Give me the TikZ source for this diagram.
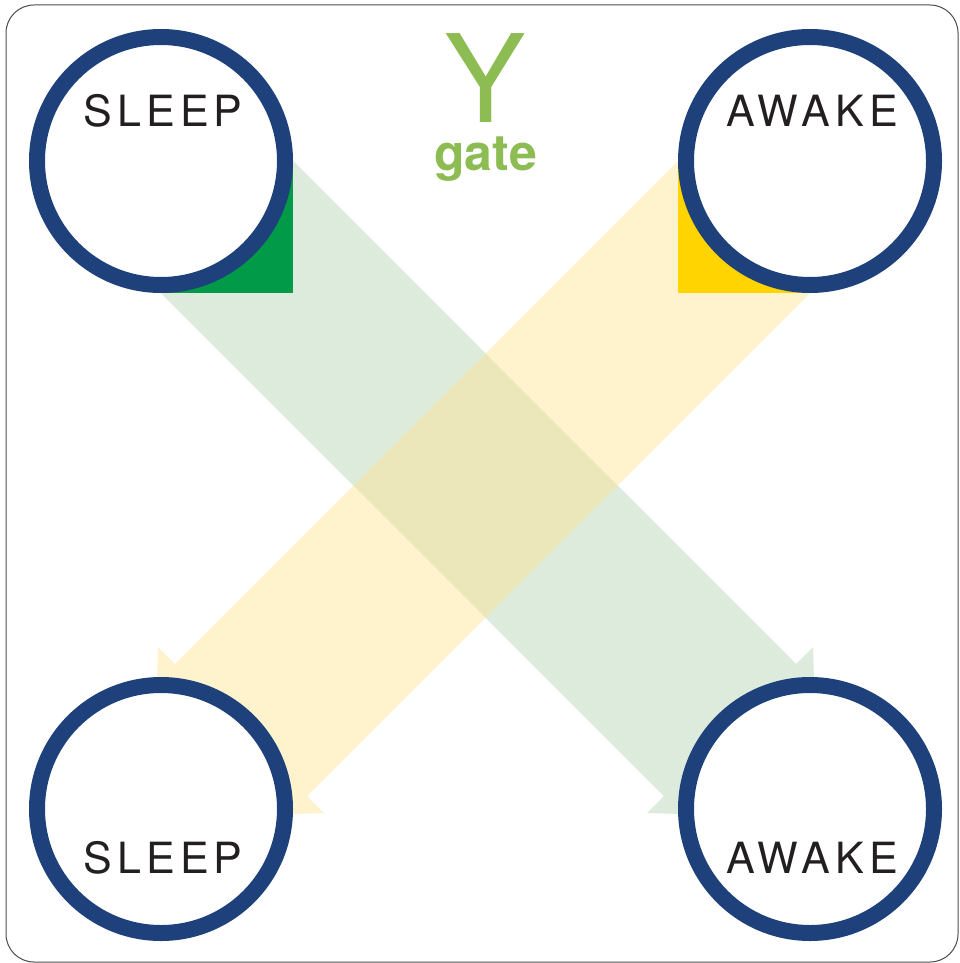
\documentclass[tikz,border=0pt]{standalone}
\usepackage{fontspec}
\setmainfont{TeX Gyre Heros}
\newfontfamily\labfont[LetterSpace=12]{TeX Gyre Heros}
\newfontfamily\herosfont{TeX Gyre Heros}
\definecolor{ringblue}{HTML}{1E417C}
\definecolor{darkgreen}{HTML}{009A49}
\definecolor{gold}{HTML}{FFD400}
\definecolor{lightgreen}{HTML}{DCEBDC}
\definecolor{lightyellow}{HTML}{FEF3CD}
\definecolor{crossing}{HTML}{EBE7BB}
\definecolor{txt}{HTML}{231F20}
\definecolor{gategreen}{HTML}{8CBC52}
\definecolor{frame}{HTML}{4D4D4D}
\begin{document}
\begin{tikzpicture}[x=1pt,y=-1pt,
  ring/.style={circle, draw=ringblue, fill=white, line width=16pt, minimum size=248pt, inner sep=0pt},
  statelabel/.style={anchor=base, text=txt, font=\fontsize{43}{43}\labfont, inner sep=0pt}]
\useasboundingbox (0,0) rectangle (959,963);
\fill[white] (0,0) rectangle (959,963);
\draw[frame, line width=1pt, rounded corners=28pt] (6,5) rectangle (958,962);
% light bands
\path[fill=lightgreen] (161,161) -- (293,161) -- (796,664) -- (813,647) -- (818,818) -- (647,813) -- (664,796) -- (161,293) -- cycle;
\path[fill=lightyellow] (810,161) -- (678,161) -- (175,664) -- (158,647) -- (153,818) -- (324,813) -- (307,796) -- (810,293) -- cycle;
\begin{scope}
\clip (161,161) -- (293,161) -- (796,664) -- (813,647) -- (818,818) -- (647,813) -- (664,796) -- (161,293) -- cycle;
\path[fill=crossing] (810,161) -- (678,161) -- (175,664) -- (158,647) -- (153,818) -- (324,813) -- (307,796) -- (810,293) -- cycle;
\end{scope}
% dark tails
\fill[darkgreen] (161,161) rectangle (293,293);
\fill[gold] (678,161) rectangle (810,293);
% circles
\node[ring] (sleepA) at (161,161) {};
\node[ring] (awakeA) at (810,161) {};
\node[ring] (sleepB) at (161,809) {};
\node[ring] (awakeB) at (810,809) {};
% labels
\node[statelabel] (tsleepA) at (163,126) {SLEEP};
\node[statelabel] (tawakeA) at (812,126) {AWAKE};
\node[statelabel] (tsleepB) at (163,873) {SLEEP};
\node[statelabel] (tawakeB) at (812,873) {AWAKE};
% gate
\node[anchor=base, inner sep=0pt, text=gategreen, font=\fontsize{122}{122}\herosfont] (ygate) at (485.5,123) {Y};
\node[anchor=base, inner sep=0pt, text=gategreen, font=\fontsize{50}{50}\herosfont\bfseries] (gatelabel) at (485.5,170) {gate};
\end{tikzpicture}
\end{document}
